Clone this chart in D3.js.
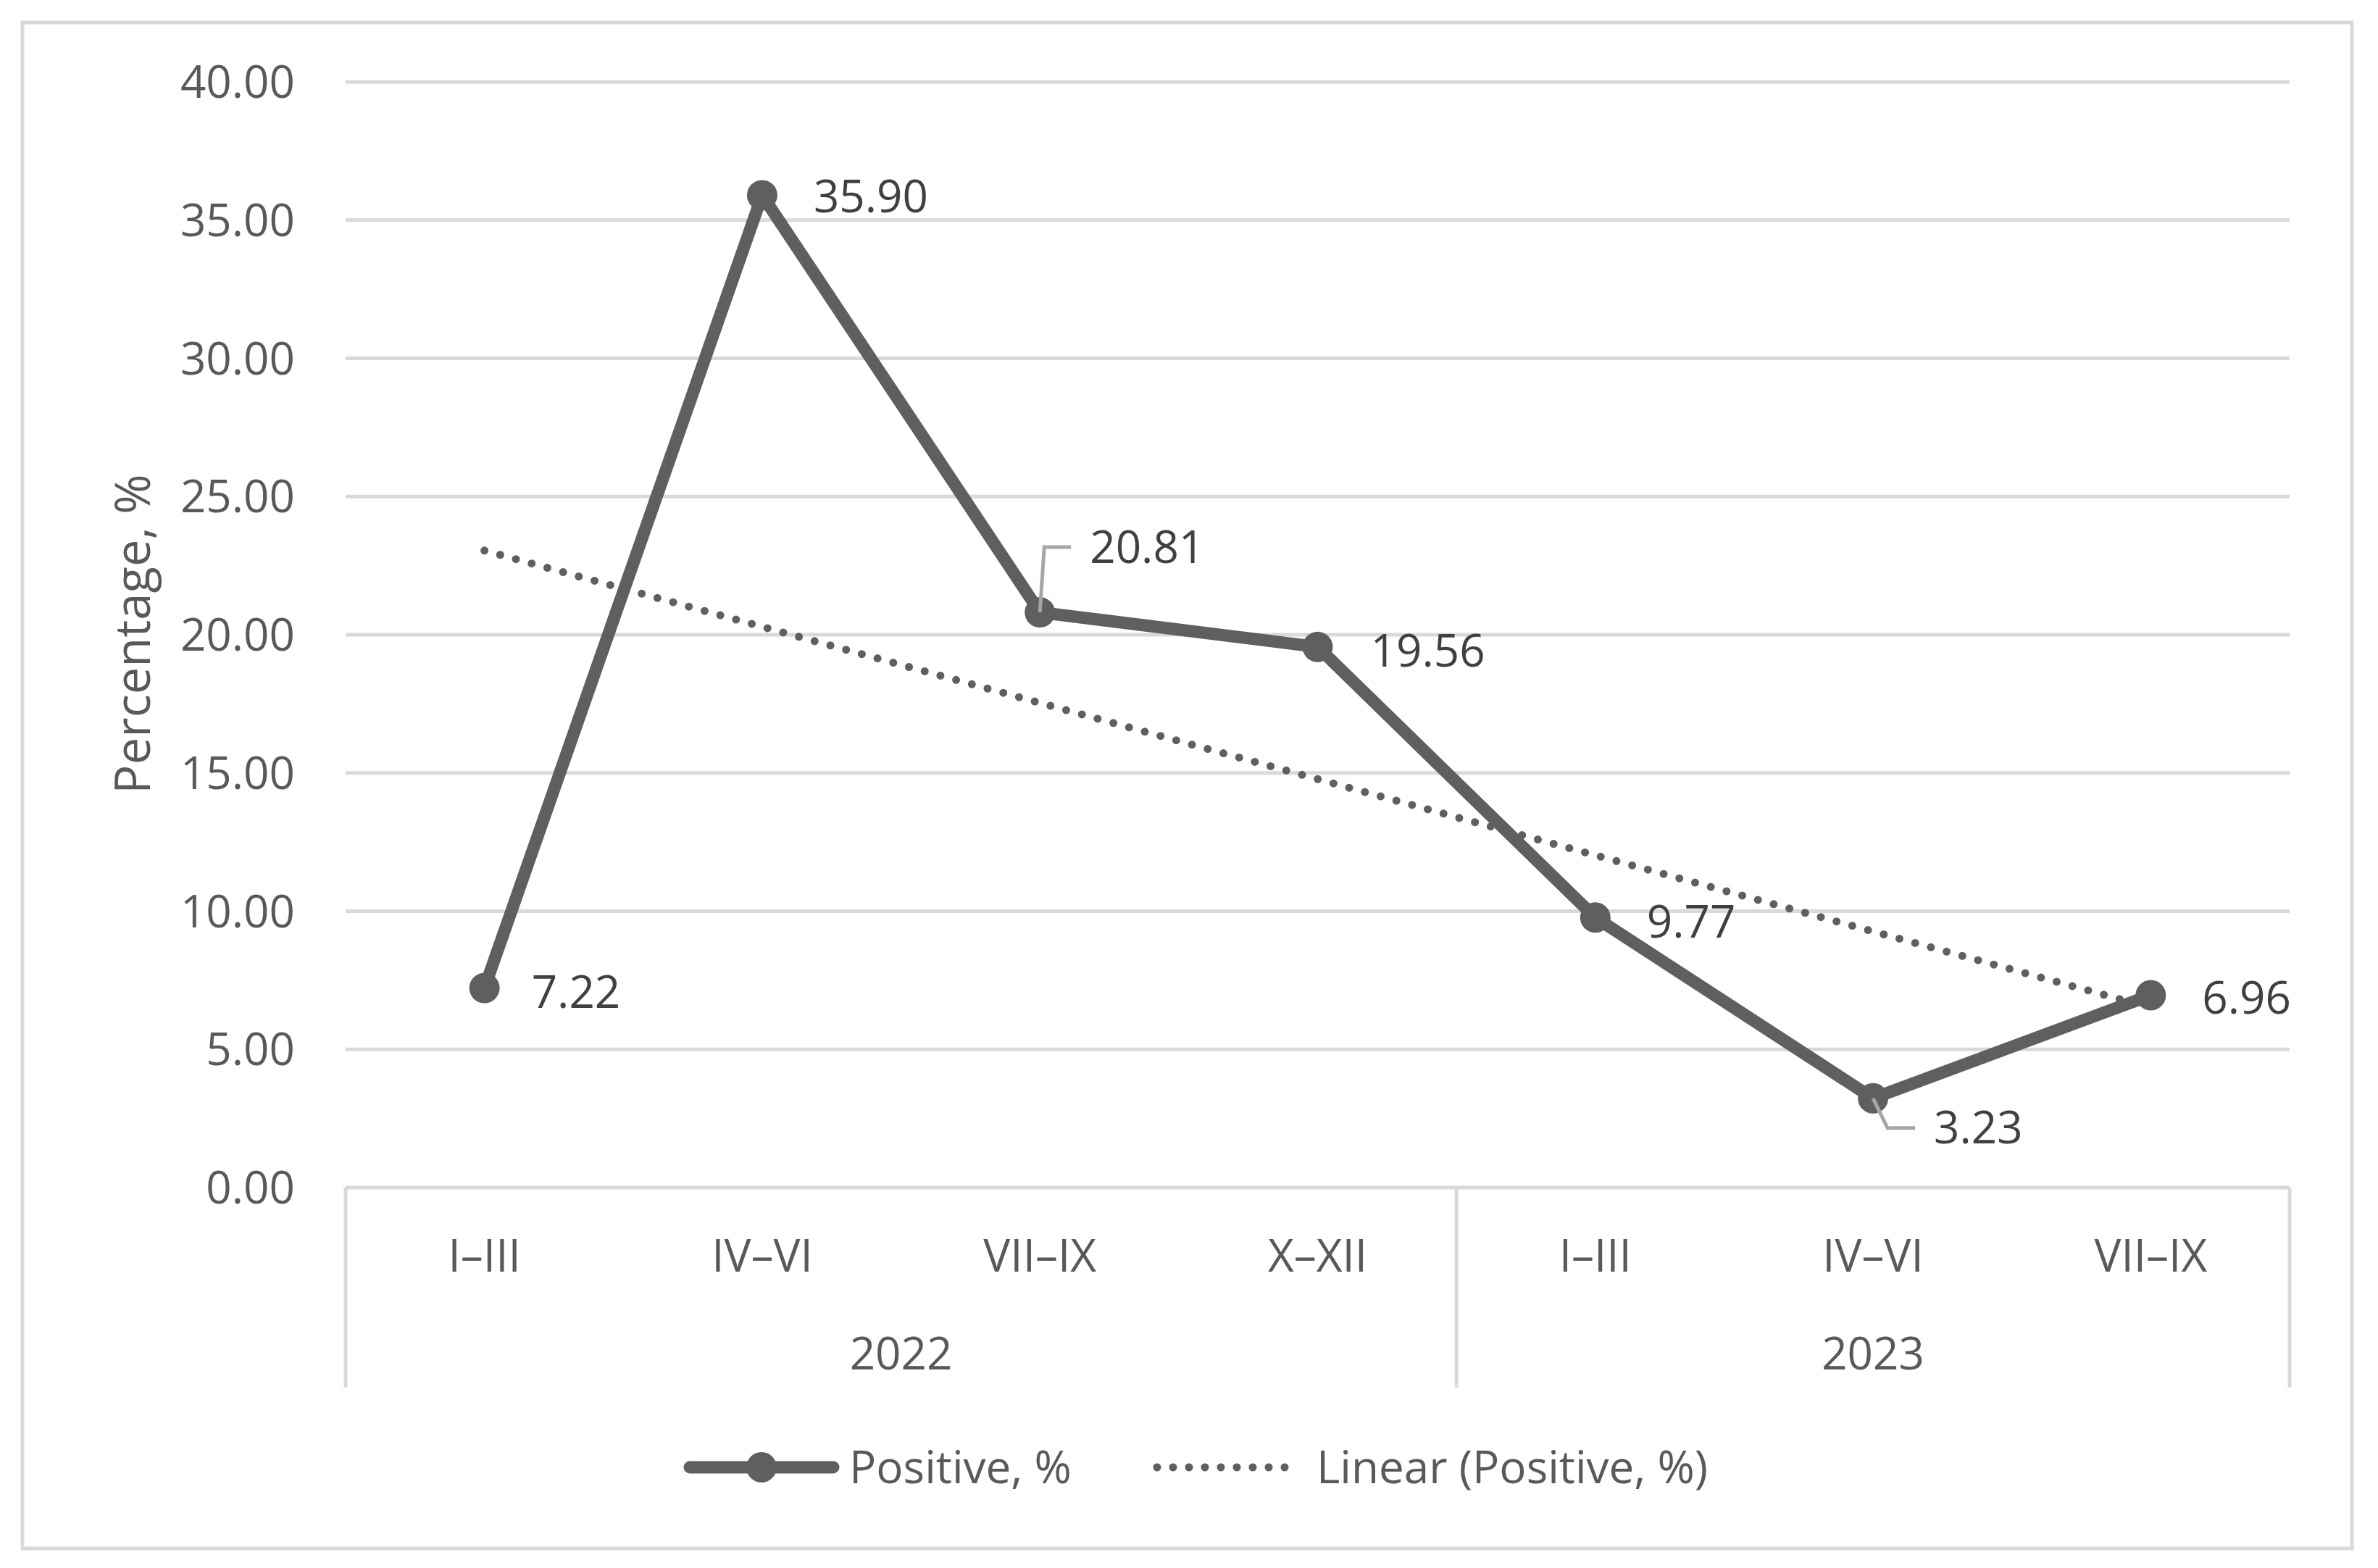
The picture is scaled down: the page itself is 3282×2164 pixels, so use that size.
<!DOCTYPE html>
<html>
<head>
<meta charset="utf-8">
<script src="https://cdn.jsdelivr.net/npm/d3@7"></script>
<style>
  html, body { margin: 0; padding: 0; background: #fff; }
  svg { display: block; }
  text { font-family: "Open Sans", "Liberation Sans", sans-serif; }
</style>
</head>
<body>
<script>
// ---- Data ----
const quarters = ["I–III", "IV–VI", "VII–IX", "X–XII", "I–III", "IV–VI", "VII–IX"];
const years = ["2022", "2022", "2022", "2022", "2023", "2023", "2023"];
const yearGroups = ["2022", "2023"];
const positive = [7.22, 35.90, 20.81, 19.56, 9.77, 3.23, 6.96];
const yTicks = [0, 5, 10, 15, 20, 25, 30, 35, 40];
const seriesName = "Positive, %";
const trendName = "Linear (Positive, %)";
const yTitle = "Percentage, %";

// ---- Layout / style ----
const W = 3282, H = 2164;
const plot = { left: 477, right: 3160, top: 113, bottom: 1639 };
const lineColor = "#5f5f5f";
const gridColor = "#d9d9d9";
const textColor = "#595959";
const labelColor = "#404040";
const fontSize = 62;
// label placement (offsets in px from the point)
const labelOffsets = [
  { dx: 65, dy: 6 },
  { dx: 71, dy: 2 },
  { dx: 69, dy: -90, leader: true },
  { dx: 73, dy: 6 },
  { dx: 71, dy: 6 },
  { dx: 84, dy: 41, leader: true },
  { dx: 71, dy: 4 }
];

const svg = d3.select("body").append("svg").attr("width", W).attr("height", H);
svg.append("rect").attr("width", W).attr("height", H).attr("fill", "#fff");

// outer chart border
svg.append("rect").attr("x", 31).attr("y", 31).attr("width", 3215).attr("height", 2106)
  .attr("fill", "none").attr("stroke", gridColor).attr("stroke-width", 5);

const idx = d3.range(quarters.length);
const x = d3.scaleBand().domain(idx).range([plot.left, plot.right]).padding(0);
const cx = i => x(i) + x.bandwidth() / 2;
const y = d3.scaleLinear().domain([0, 40]).range([plot.bottom, plot.top]);

// gridlines
svg.append("g").selectAll("line").data(yTicks.filter(t => t > 0)).join("line")
  .attr("x1", plot.left).attr("x2", plot.right)
  .attr("y1", d => y(d)).attr("y2", d => y(d))
  .attr("stroke", gridColor).attr("stroke-width", 5);

// y axis labels
const yAxis = d3.axisLeft(y).tickValues(yTicks).tickFormat(d3.format(".2f")).tickSize(0).tickPadding(70);
const gy = svg.append("g").attr("transform", `translate(${plot.left},0)`).call(yAxis);
gy.select(".domain").remove();
gy.selectAll("text").attr("fill", textColor).attr("font-size", fontSize)
  .attr("font-family", "'Open Sans', sans-serif").attr("dy", "0.35em");

// y title
svg.append("text")
  .attr("transform", `translate(184, ${(plot.top + plot.bottom) / 2 - 1}) rotate(-90)`)
  .attr("text-anchor", "middle").attr("dy", "0.35em")
  .attr("fill", textColor).attr("font-size", 67).text(yTitle);

// category axis (multi-level)
const axisBottomY = plot.bottom;
const sepBottom = 1915;
svg.append("line").attr("x1", plot.left).attr("x2", plot.right)
  .attr("y1", axisBottomY).attr("y2", axisBottomY)
  .attr("stroke", gridColor).attr("stroke-width", 5);

const xAxis = d3.axisBottom(x).tickFormat(i => quarters[i]).tickSize(0).tickPadding(70);
const gx = svg.append("g").attr("transform", `translate(0,${axisBottomY})`).call(xAxis);
gx.select(".domain").remove();
gx.selectAll("text").attr("fill", textColor).attr("font-size", fontSize)
  .attr("font-family", "'Open Sans', sans-serif").attr("dy", "0.35em").attr("y", 94);

// year group separators and labels
const groupInfo = yearGroups.map(g => {
  const members = idx.filter(i => years[i] === g);
  return { g, start: x(members[0]), end: x(members[members.length - 1]) + x.bandwidth() };
});
const seps = Array.from(new Set(groupInfo.flatMap(d => [d.start, d.end])));
svg.append("g").selectAll("line").data(seps).join("line")
  .attr("x1", d => d).attr("x2", d => d)
  .attr("y1", axisBottomY).attr("y2", sepBottom)
  .attr("stroke", gridColor).attr("stroke-width", 5);
svg.append("g").selectAll("text").data(groupInfo).join("text")
  .attr("x", d => (d.start + d.end) / 2).attr("y", 1868)
  .attr("text-anchor", "middle").attr("dy", "0.35em")
  .attr("fill", textColor).attr("font-size", fontSize).text(d => d.g);

// linear trend (least squares fit of the series)
const xs = idx.map(i => i + 1);
const mx = d3.mean(xs), my = d3.mean(positive);
const slope = d3.sum(xs.map((v, k) => (v - mx) * (positive[k] - my))) / d3.sum(xs.map(v => (v - mx) ** 2));
const intercept = my - slope * mx;
const trend = idx.map(i => intercept + slope * (i + 1));
svg.append("path")
  .datum(idx)
  .attr("d", d3.line().x(i => cx(i)).y(i => y(trend[i])))
  .attr("fill", "none").attr("stroke", lineColor).attr("stroke-width", 11)
  .attr("stroke-linecap", "round").attr("stroke-dasharray", "0 22.5");

// main series
svg.append("path")
  .datum(idx)
  .attr("d", d3.line().x(i => cx(i)).y(i => y(positive[i])))
  .attr("fill", "none").attr("stroke", lineColor).attr("stroke-width", 17)
  .attr("stroke-linejoin", "round");
svg.append("g").selectAll("circle").data(idx).join("circle")
  .attr("cx", i => cx(i)).attr("cy", i => y(positive[i])).attr("r", 21)
  .attr("fill", lineColor);

// leader lines
svg.append("g").selectAll("path").data(idx.filter(i => labelOffsets[i].leader)).join("path")
  .attr("d", i => {
    const px = cx(i), py = y(positive[i]);
    const o = labelOffsets[i];
    const ly = py + o.dy;
    const kneeX = px + (o.dy < 0 ? 6 : 20);
    return `M${px},${py} L${kneeX},${ly} L${px + o.dx - 26},${ly}`;
  })
  .attr("fill", "none").attr("stroke", "#a6a6a6").attr("stroke-width", 5);

// data labels
svg.append("g").selectAll("text").data(idx).join("text")
  .attr("x", i => cx(i) + labelOffsets[i].dx)
  .attr("y", i => y(positive[i]) + labelOffsets[i].dy)
  .attr("dy", "0.35em")
  .attr("fill", labelColor).attr("font-size", fontSize)
  .text(i => d3.format(".2f")(positive[i]));

// legend
const legY = 2025;
const leg = svg.append("g");
leg.append("line").attr("x1", 952).attr("x2", 1150).attr("y1", legY).attr("y2", legY)
  .attr("stroke", lineColor).attr("stroke-width", 17).attr("stroke-linecap", "round");
leg.append("circle").attr("cx", 1051).attr("cy", legY).attr("r", 21).attr("fill", lineColor);
leg.append("text").attr("x", 1172).attr("y", legY).attr("dy", "0.35em")
  .attr("fill", textColor).attr("font-size", fontSize).text(seriesName);
leg.append("line").attr("x1", 1597).attr("x2", 1795).attr("y1", legY).attr("y2", legY)
  .attr("stroke", lineColor).attr("stroke-width", 11).attr("stroke-linecap", "round")
  .attr("stroke-dasharray", "0 22");
leg.append("text").attr("x", 1817).attr("y", legY).attr("dy", "0.35em")
  .attr("fill", textColor).attr("font-size", fontSize).text(trendName);
</script>
</body>
</html>
